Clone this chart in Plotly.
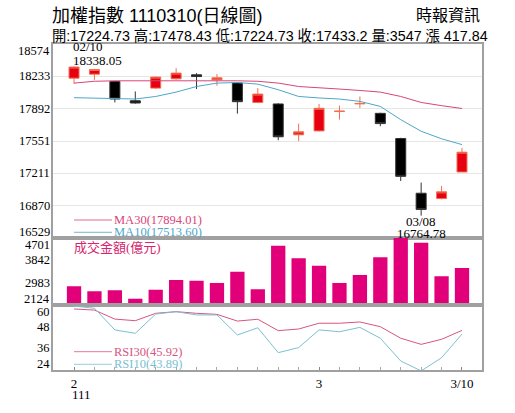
import plotly.graph_objects as go
from plotly.subplots import make_subplots

# ---------------- data ----------------
dates = ["02/10", "02/11", "02/14", "02/15", "02/16", "02/17", "02/18", "02/21",
         "02/22", "02/23", "02/24", "02/25", "03/01", "03/02", "03/03", "03/04",
         "03/07", "03/08", "03/09", "03/10"]
opens = [18214, 18256, 18179, 17976, 18109, 18207, 18249, 18196, 18162, 17958,
         17942, 17617, 17658, 17862, 17943, 17843, 17578, 17001, 16945, 17224.73]
highs = [18338.05, 18312, 18185, 18074, 18232, 18319, 18267, 18256, 18170, 18109,
         17950, 17735, 17942, 17924, 18021, 17850, 17585, 17113, 17078, 17478.43]
lows = [18154, 18196, 17958, 17945, 18100, 18198, 18099, 18134, 17840, 17950,
        17560, 17550, 17650, 17777, 17900, 17707, 17130, 16764.78, 16935, 17224.73]
closes = [18331, 18305, 17994, 17952, 18225, 18267, 18231, 18217, 17966, 18046,
          17596, 17648, 17896, 17866, 17947, 17735, 17179, 16830, 17015.36, 17433.2]
ma10 = [18008, 18005, 17997, 17994, 18021, 18067, 18126, 18162, 18168, 18151,
        18092, 18021, 18005, 17994, 17969, 17916, 17777, 17654, 17575, 17513.60]
ma30 = [18162, 18181, 18186, 18186, 18186, 18186, 18189, 18189, 18186, 18181,
        18162, 18126, 18109, 18099, 18084, 18067, 18021, 17958, 17924, 17894.01]
volume = [2843, 2651, 2689, 2366, 2712, 3085, 3058, 2970, 3405, 2727,
          4405, 3921, 3636, 2970, 3278, 3958, 4701, 4520, 3228, 3547]
rsi30 = [57.8, 57.2, 52.2, 51.3, 55.4, 56.3, 55.4, 54.8, 51.1, 52.1,
         45.8, 46.7, 49.9, 49.9, 50.6, 48.0, 41.6, 38.2, 41.0, 45.92]
rsi10 = [59.4, 58.2, 46.2, 44.3, 55.0, 56.3, 54.5, 54.5, 43.4, 47.4,
         33.6, 36.4, 46.2, 45.2, 47.6, 41.6, 29.0, 23.5, 30.8, 43.89]

price_ticks = [16529, 16870, 17211, 17551, 17892, 18233, 18574]
vol_ticks = [2124, 2983, 3842, 4701]
rsi_ticks = [24, 36, 48, 60]
month_tick_dates = ["02/10", "03/01", "03/10"]
month_tick_labels = ["2", "3", "3/10"]
year_label = "111"

title_text = "加權指數 1110310(日線圖)"
source_text = "時報資訊"
quote_text = "開:17224.73 高:17478.43 低:17224.73 收:17433.2 量:3547 漲 417.84"
vol_title = "成交金額(億元)"
ma_labels = ["MA30(17894.01)", "MA10(17513.60)"]
rsi_labels = ["RSI30(45.92)", "RSI10(43.89)"]
hi_label = ("02/10", 18338.05)
lo_label = ("03/08", 16764.78)

# ---------------- styles ----------------
SERIF = "Liberation Serif, Noto Sans CJK TC, serif"
SANS = "Liberation Sans, Noto Sans CJK TC, sans-serif"
CJK = "Liberation Serif, Noto Sans CJK TC, serif"
C_MA30 = "#d9457a"
C_MA10 = "#4fa6c9"
C_RSI30 = "#d9557f"
C_RSI10 = "#7cc0d0"
C_VOL = "#e2007a"
AX = "#a0a0a0"

fig = make_subplots(rows=3, cols=1, shared_xaxes=True, vertical_spacing=0,
                    row_heights=[194, 67, 65])

fig.add_trace(go.Candlestick(
    x=dates, open=opens, high=highs, low=lows, close=closes,
    increasing=dict(fillcolor="#e60012", line=dict(color="#f2704f", width=1)),
    decreasing=dict(fillcolor="#000000", line=dict(color="#333333", width=1)),
    hoverinfo="skip", showlegend=False), row=1, col=1)
fig.add_trace(go.Scatter(x=dates, y=ma30, mode="lines",
                         line=dict(color=C_MA30, width=1), showlegend=False,
                         hoverinfo="skip"), row=1, col=1)
fig.add_trace(go.Scatter(x=dates, y=ma10, mode="lines",
                         line=dict(color=C_MA10, width=1), showlegend=False,
                         hoverinfo="skip"), row=1, col=1)

fig.add_trace(go.Bar(x=dates, y=volume, marker=dict(color=C_VOL, line=dict(width=0)),
                     width=0.7, showlegend=False, hoverinfo="skip"), row=2, col=1)

fig.add_trace(go.Scatter(x=dates, y=rsi30, mode="lines",
                         line=dict(color=C_RSI30, width=1), showlegend=False,
                         hoverinfo="skip"), row=3, col=1)
fig.add_trace(go.Scatter(x=dates, y=rsi10, mode="lines",
                         line=dict(color=C_RSI10, width=1), showlegend=False,
                         hoverinfo="skip"), row=3, col=1)

xr = [-1.03, len(dates) - 1 + 0.98]
for r in (1, 2, 3):
    fig.update_xaxes(row=r, col=1, type="category", range=xr, showgrid=False,
                     showline=True, linecolor=AX, linewidth=2, mirror=True,
                     zeroline=False, fixedrange=True)
fig.update_xaxes(row=1, col=1, rangeslider=dict(visible=False), showticklabels=False)
fig.update_xaxes(row=2, col=1, showticklabels=False)
fig.update_xaxes(row=3, col=1, tickmode="array", tickvals=month_tick_dates,
                 ticktext=month_tick_labels, ticks="inside", ticklen=3,
                 tickcolor="#888",
                 tickfont=dict(family=SERIF, size=13, color="#000"),
                 minor=dict(ticks="inside", ticklen=3, tickcolor="#aaa",
                            showgrid=False))

fig.update_yaxes(row=1, col=1, range=[price_ticks[0], price_ticks[-1]],
                 tickvals=price_ticks, showticklabels=False, showgrid=True,
                 gridcolor="#e6e6e6", gridwidth=1, showline=True, linecolor=AX,
                 linewidth=1.5, mirror=True, zeroline=False)
fig.update_yaxes(row=2, col=1, range=[vol_ticks[0], vol_ticks[-1]],
                 tickvals=vol_ticks, showticklabels=False, showgrid=False,
                 showline=True, linecolor=AX, linewidth=1.5, mirror=True,
                 zeroline=False)
fig.update_yaxes(row=3, col=1, range=[rsi_ticks[0], rsi_ticks[-1]],
                 tickvals=rsi_ticks, showticklabels=False, showgrid=False,
                 showline=True, linecolor=AX, linewidth=1.5, mirror=True,
                 zeroline=False)

ann = []
# y tick labels (placed on each axis' own scale, edges nudged inward)
for yref, ticks in (("y", price_ticks), ("y2", vol_ticks), ("y3", rsi_ticks)):
    for i, v in enumerate(ticks):
        shift = 6 if i == 0 else (-7 if i == len(ticks) - 1 else 0)
        ann.append(dict(x=0, xref="paper", y=v, yref=yref, text=str(v),
                        xanchor="right", yanchor="middle", xshift=-1, yshift=shift,
                        showarrow=False,
                        font=dict(family=SERIF, size=12.5, color="#000")))

# header
ann.append(dict(x=0, xref="paper", y=1.086, yref="paper", text=title_text,
                xanchor="left", yanchor="middle", xshift=-3, showarrow=False,
                font=dict(family=SANS, size=18, color="#000")))
ann.append(dict(x=1, xref="paper", y=1.086, yref="paper", text=source_text,
                xanchor="right", yanchor="middle", showarrow=False,
                font=dict(family=SANS, size=16, color="#000")))
ann.append(dict(x=0, xref="paper", y=1.026, yref="paper", text=quote_text,
                xanchor="left", yanchor="middle", xshift=-3, showarrow=False,
                font=dict(family=SANS, size=14.3, color="#000")))

# high / low markers (one line per annotation, anchored to the extreme value)
ann.append(dict(x=hi_label[0], xref="x", y=hi_label[1], yref="y",
                text=f"{hi_label[1]:.2f}", xanchor="left", yanchor="middle",
                xshift=-3, yshift=6, showarrow=False,
                font=dict(family=SERIF, size=13, color="#000")))
ann.append(dict(x=hi_label[0], xref="x", y=hi_label[1], yref="y",
                text=hi_label[0], xanchor="left", yanchor="middle",
                xshift=-3, yshift=19.5, showarrow=False,
                font=dict(family=SERIF, size=13, color="#000")))
ann.append(dict(x=lo_label[0], xref="x", y=lo_label[1], yref="y",
                text=lo_label[0], xanchor="center", yanchor="middle",
                yshift=-6, showarrow=False,
                font=dict(family=SERIF, size=13, color="#000")))
ann.append(dict(x=lo_label[0], xref="x", y=lo_label[1], yref="y",
                text=f"{lo_label[1]:.2f}", xanchor="center", yanchor="middle",
                yshift=-17.5, showarrow=False,
                font=dict(family=SERIF, size=13, color="#000")))

# legends
def px_x(p):
    return (p - 53) / 429.0

def px_y(p):
    return (370 - p) / 326.0

shapes = []
leg = [(ma_labels[0], C_MA30, 220), (ma_labels[1], C_MA10, 232.3),
       (rsi_labels[0], C_RSI30, 351.7), (rsi_labels[1], C_RSI10, 364.3)]
for txt, col, ypx in leg:
    shapes.append(dict(type="line", xref="paper", yref="paper",
                       x0=px_x(74), x1=px_x(112), y0=px_y(ypx), y1=px_y(ypx),
                       line=dict(color=col, width=0.8)))
    ann.append(dict(x=px_x(112), xref="paper", y=px_y(ypx), yref="paper", text=txt,
                    xanchor="left", yanchor="middle", showarrow=False,
                    font=dict(family=SERIF, size=12.5, color=col)))

ann.append(dict(x=px_x(72), xref="paper", y=px_y(248), yref="paper", text=vol_title,
                xanchor="left", yanchor="middle", showarrow=False,
                font=dict(family=CJK, size=13, color="#d6246e")))
ann.append(dict(x=month_tick_dates[0], xref="x3", y=px_y(394), yref="paper",
                text=year_label, xanchor="left", yanchor="middle", xshift=-4,
                showarrow=False, font=dict(family=SERIF, size=13, color="#000")))

fig.update_layout(width=515, height=413, margin=dict(l=53, r=33, t=44, b=43),
                  paper_bgcolor="#ffffff", plot_bgcolor="#ffffff",
                  annotations=ann, shapes=shapes, showlegend=False,
                  bargap=0.3, hovermode=False)

fig.write_html("out.html", config={"displayModeBar": False},
               post_script="document.body.style.margin='0px';"
                           "document.body.style.padding='0px';"
                           "document.documentElement.style.overflow='hidden';")
